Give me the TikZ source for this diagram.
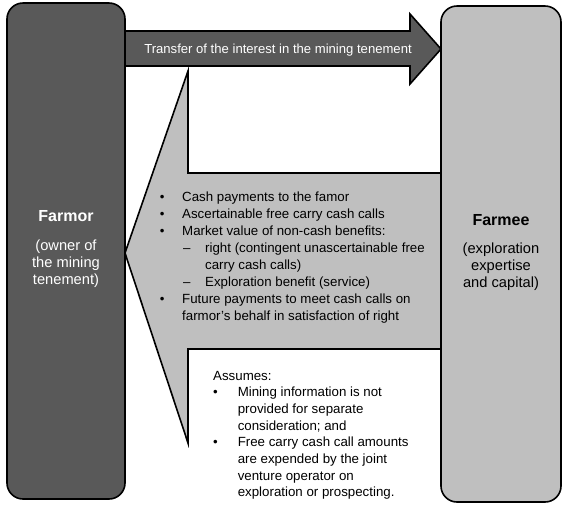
\documentclass[tikz,border=0pt]{standalone}
\usepackage{fontspec}
\setmainfont{Liberation Sans}
\definecolor{darkbox}{HTML}{595959}
\definecolor{lightbox}{HTML}{BFBFBF}
\begin{document}
\begin{tikzpicture}[x=1pt,y=-1pt,
  partybox/.style={draw=black,line width=1.6pt,rounded corners=16pt,inner sep=0pt},
  blockarrow/.style={draw=black,line width=1.6pt,line join=miter},
  bodytext/.style={font=\fontsize{13.3}{17.1}\selectfont,inner sep=0pt,align=left,anchor=north west},
  notetext/.style={font=\fontsize{13.3}{16.64}\selectfont,inner sep=0pt,align=left,anchor=north west},
  nametext/.style={font=\bfseries\fontsize{16}{19}\selectfont,anchor=base,inner sep=0pt},
  desctext/.style={font=\fontsize{14.67}{17}\selectfont,align=center,anchor=north,inner sep=0pt},
]
\useasboundingbox (0,0) rectangle (563,507);

% big benefits arrow (farmee -> farmor)
\draw[blockarrow,fill=lightbox] (441,173) -- (188,173) -- (188,71) -- (125,253)
  -- (188,443) -- (188,349) -- (441,349) -- cycle;

% transfer arrow (farmor -> farmee)
\draw[blockarrow,fill=darkbox] (125,31) -- (410,31) -- (410,14) -- (441,49)
  -- (410,84) -- (410,66) -- (125,66) -- cycle;

% party boxes
\node[partybox,fill=darkbox,minimum width=118pt,minimum height=496pt] (farmor) at (66,251) {};
\node[partybox,fill=lightbox,minimum width=120pt,minimum height=496pt] (farmee) at (501,254) {};

% texts
\node[font=\fontsize{13.1}{15}\selectfont,text=white,anchor=base,inner sep=0pt] (transfer) at (278,53.5)
  {Transfer of the interest in the mining tenement};

\node[nametext,text=white] (farmorname) at (66,221) {Farmor};
\node[desctext,text=white] (farmordesc) at (66,239)
  {\rule{0pt}{11pt}(owner of\\the mining\\tenement)};

\node[nametext] (farmeename) at (501,225) {Farmee};
\node[desctext] (farmeedesc) at (501,242)
  {\rule{0pt}{11pt}(exploration\\expertise\\and capital)};

\node[bodytext] (benefits) at (159.7,191)
  {\rule{0pt}{10pt}\makebox[22.3pt][l]{•}Cash payments to the famor\\
   \makebox[22.3pt][l]{•}Ascertainable free carry cash calls\\
   \makebox[22.3pt][l]{•}Market value of non-cash benefits:\\
   \hspace*{23.3pt}\makebox[22pt][l]{–}right (contingent unascertainable free\\
   \hspace*{45.3pt}carry cash calls)\\
   \hspace*{23.3pt}\makebox[22pt][l]{–}Exploration benefit (service)\\
   \makebox[22.3pt][l]{•}Future payments to meet cash calls on\\
   \hspace*{22.3pt}farmor's behalf in satisfaction of right};

\node[notetext] (assumes) at (213,370)
  {\rule{0pt}{10pt}Assumes:\\
   \makebox[24.6pt][l]{•}Mining information is not\\
   \hspace*{24.6pt}provided for separate\\
   \hspace*{24.6pt}consideration; and\\
   \makebox[24.6pt][l]{•}Free carry cash call amounts\\
   \hspace*{24.6pt}are expended by the joint\\
   \hspace*{24.6pt}venture operator on\\
   \hspace*{24.6pt}exploration or prospecting.};
\end{tikzpicture}
\end{document}
